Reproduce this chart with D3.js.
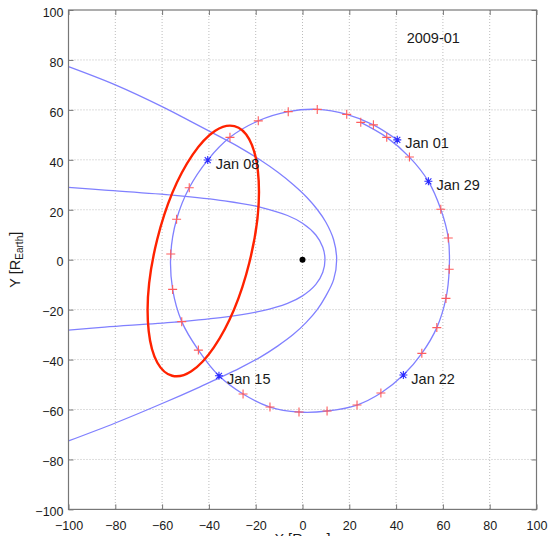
<!DOCTYPE html>
<html><head><meta charset="utf-8">
<script src="https://cdn.jsdelivr.net/npm/d3@7"></script>
<style>
body{margin:0;background:#fff;}
svg{display:block;font-family:"Liberation Sans",Arial,Helvetica,sans-serif;}
</style>
</head><body>
<svg id="chart" width="549" height="536"></svg>
<script>
// ---- data ----
const dayLabels = ["Jan 01","Jan 02","Jan 03","Jan 04","Jan 05","Jan 06","Jan 07","Jan 08","Jan 09","Jan 10",
  "Jan 11","Jan 12","Jan 13","Jan 14","Jan 15","Jan 16","Jan 17","Jan 18","Jan 19","Jan 20","Jan 21",
  "Jan 22","Jan 23","Jan 24","Jan 25","Jan 26","Jan 27","Jan 28","Jan 29","Jan 30","Jan 31","Feb 01"];
const orbitX = [40.5,30.3,18.9,6.3,-6.1,-18.9,-31.0,-40.5,-48.4,-53.8,-56.3,-55.5,-51.6,-44.5,-35.7,-25.4,
  -13.9,-1.5,10.5,23.3,33.5,43.1,51.0,57.4,61.3,62.7,62.3,59.1,53.8,45.7,36.0,24.9];
const orbitY = [48.0,54.0,58.2,60.2,59.3,55.6,49.0,39.9,28.8,16.2,2.3,-11.9,-24.8,-36.2,-46.5,-53.8,
  -59.0,-61.0,-60.6,-58.2,-53.4,-46.2,-37.5,-27.2,-15.5,-3.8,8.7,20.2,31.4,41.1,49.0,55.0];
const markedDays = ["Jan 01","Jan 08","Jan 15","Jan 22","Jan 29"];

const bowShockX = [-100,-80,-60,-48,-36.8,-26.9,-18.2,-10.5,-3.9,1.8,6.4,10,13.3,14.6,
  13.3,10,6.3,1.5,-4,-10.5,-18,-27,-36,-44,-60,-80,-100];
const bowShockY = [77.3,70,61.3,55.5,50,45,40,35,30,25,20,15,8,0,
  -8,-14.5,-20,-25.2,-30,-34.5,-39,-43.5,-47.5,-51,-57.6,-65.4,-72.6];

const magnetopauseX = [-100,-84.5,-54.6,-33.3,-17.4,-6.4,0,5.7,8.67,9.6,8.67,5.7,0,-6.4,-17.4,-33.3,-54.6,-84.5,-100];
const magnetopauseY = [29.0,27.9,25.8,23.6,20.9,17.7,14.6,9.9,5.0,0,-5.0,-9.9,-14.5,-17.5,-20.5,-23.0,-25.0,-27.0,-28.2];

const earthXY = [0, 0];
const tickValues = [-100,-80,-60,-40,-20,0,20,40,60,80,100];
const titleText = "2009-01";
const titlePos = [44.5, 86.8];
const highlight = {cx: -42.4, cy: 3.5, rx: 20.3, ry: 51.5, angle: 14};

// ---- layout ----
const svg = d3.select("#chart");
const x = d3.scaleLinear().domain([-100,100]).range([68.5,536.5]);
const y = d3.scaleLinear().domain([-100,100]).range([509.4,10]);
const L = x.range()[0], R = x.range()[1], T = y.range()[1], B = y.range()[0];

// grid
const grid = svg.append("g").attr("stroke","#bcbcbc").attr("stroke-width",1).attr("stroke-dasharray","1,2");
tickValues.filter(v => v > -100 && v < 100).forEach(v => {
  grid.append("line").attr("x1",x(v)).attr("x2",x(v)).attr("y1",T).attr("y2",B);
  grid.append("line").attr("y1",y(v)).attr("y2",y(v)).attr("x1",L).attr("x2",R);
});

const blue = "#8080ff";
const line = d3.line().x(d=>x(d[0])).y(d=>y(d[1])).curve(d3.curveCatmullRom.alpha(0.5));
const plot = svg.append("g");

// model boundaries
plot.append("path").datum(bowShockX.map((v,i)=>[v,bowShockY[i]]))
  .attr("d",line).attr("fill","none").attr("stroke",blue).attr("stroke-width",1.3);
plot.append("path").datum(magnetopauseX.map((v,i)=>[v,magnetopauseY[i]]))
  .attr("d",line).attr("fill","none").attr("stroke",blue).attr("stroke-width",1.3);

// orbit
const orbit = orbitX.map((v,i)=>({x:v,y:orbitY[i],label:dayLabels[i]}));
plot.append("path").datum(orbit.map(d=>[d.x,d.y]))
  .attr("d",line).attr("fill","none").attr("stroke",blue).attr("stroke-width",1.3);

// daily markers
plot.selectAll(".plus").data(orbit.filter(d=>!markedDays.includes(d.label))).join("path")
  .attr("class","plus")
  .attr("transform",d=>`translate(${x(d.x)},${y(d.y)})`)
  .attr("d","M-4.5,0H4.5M0,-4.5V4.5")
  .attr("stroke","#ff5c5c").attr("stroke-width",1.1).attr("fill","none");
const marked = orbit.filter(d=>markedDays.includes(d.label));
plot.selectAll(".star").data(marked).join("path")
  .attr("class","star")
  .attr("transform",d=>`translate(${x(d.x)},${y(d.y)})`)
  .attr("d","M-4,0H4M0,-4V4M-3,-3L3,3M-3,3L3,-3")
  .attr("stroke","#2b2bff").attr("stroke-width",1.1).attr("fill","none");

// Earth
plot.append("circle").attr("cx",x(earthXY[0])).attr("cy",y(earthXY[1])).attr("r",3).attr("fill","#000");

// highlight ellipse
const ecx = x(highlight.cx), ecy = y(highlight.cy);
plot.append("ellipse").attr("cx",ecx).attr("cy",ecy)
  .attr("rx",x(highlight.cx+highlight.rx)-ecx).attr("ry",ecy-y(highlight.cy+highlight.ry))
  .attr("transform",`rotate(${highlight.angle},${ecx},${ecy})`)
  .attr("fill","none").attr("stroke","#ff2200").attr("stroke-width",2.4);

// labels
plot.selectAll(".lbl").data(marked).join("text")
  .attr("x",d=>x(d.x)+8).attr("y",d=>y(d.y)+8.5)
  .attr("font-size","14.5px").attr("fill","#1a1a1a").text(d=>d.label);
svg.append("text").attr("x",x(titlePos[0])).attr("y",y(titlePos[1]))
  .attr("font-size","14.5px").attr("fill","#1a1a1a").text(titleText);

// axes
const axColor = "#777";
const fmt = d3.format("d");
const gB = svg.append("g").attr("transform",`translate(0,${B})`)
  .call(d3.axisBottom(x).tickValues(tickValues).tickSize(-5).tickPadding(12).tickFormat(fmt));
const gL = svg.append("g").attr("transform",`translate(${L},0)`)
  .call(d3.axisLeft(y).tickValues(tickValues).tickSize(-5).tickPadding(5).tickFormat(fmt));
const gT = svg.append("g").attr("transform",`translate(0,${T})`)
  .call(d3.axisTop(x).tickValues(tickValues).tickSize(-5).tickFormat(""));
const gR = svg.append("g").attr("transform",`translate(${R},0)`)
  .call(d3.axisRight(y).tickValues(tickValues).tickSize(-5).tickFormat(""));
[gB,gL,gT,gR].forEach(g=>{
  g.select(".domain").remove();
  g.selectAll(".tick line").attr("stroke",axColor);
  g.selectAll("text").attr("font-size","12.5px").attr("fill","#1a1a1a")
    .attr("font-family",'"Liberation Sans",Arial,Helvetica,sans-serif');
});
gL.selectAll("text").attr("dy","0.5em");
svg.append("rect").attr("x",L).attr("y",T).attr("width",R-L).attr("height",B-T)
  .attr("fill","none").attr("stroke",axColor).attr("stroke-width",1.2);

// axis titles
const yl = svg.append("text").attr("transform",`translate(20,${(T+B)/2}) rotate(-90)`)
  .attr("text-anchor","middle").attr("font-size","14.5px").attr("fill","#1a1a1a");
yl.append("tspan").text("Y [R");
yl.append("tspan").attr("font-size","10px").attr("dy","3").text("Earth");
yl.append("tspan").attr("dy","-3").text("]");
const xl = svg.append("text").attr("x",(L+R)/2).attr("y",544)
  .attr("text-anchor","middle").attr("font-size","14.5px").attr("fill","#1a1a1a");
xl.append("tspan").text("X [R");
xl.append("tspan").attr("font-size","10px").attr("dy","3").text("Earth");
xl.append("tspan").attr("dy","-3").text("]");
</script>
</body></html>
